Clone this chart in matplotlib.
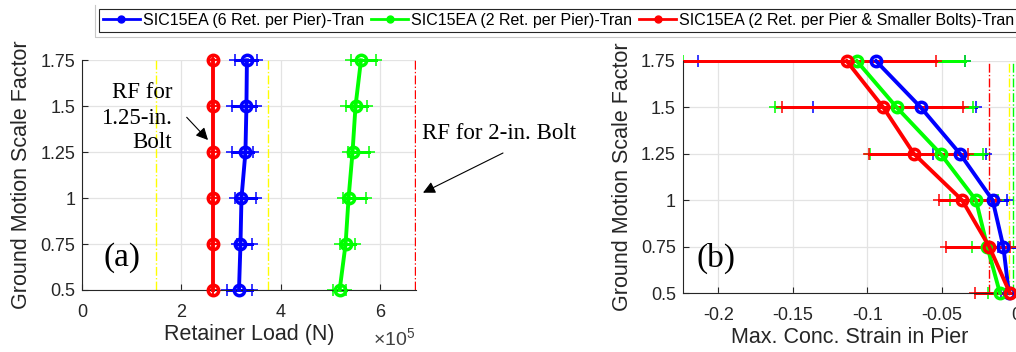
import matplotlib
matplotlib.use('Agg')
import matplotlib.pyplot as plt
from matplotlib.lines import Line2D
from matplotlib.text import Annotation
from matplotlib.ticker import FuncFormatter
from matplotlib.transforms import Bbox, TransformedBbox

plt.rcParams['font.family'] = ['Liberation Sans', 'DejaVu Sans']
plt.rcParams['mathtext.fontset'] = 'custom'
plt.rcParams['mathtext.rm'] = 'Liberation Sans'
plt.rcParams['axes.unicode_minus'] = False

# ground motion scale factors
scale = [0.5, 0.75, 1.0, 1.25, 1.5, 1.75]

# retainer load (N): mean, mean-std, mean+std
load_6ret = [3.16e5, 3.19e5, 3.21e5, 3.29e5, 3.31e5, 3.32e5]
load_6ret_lo = [2.91e5, 3.13e5, 3.08e5, 3.02e5, 3.02e5, 3.07e5]
load_6ret_hi = [3.42e5, 3.42e5, 3.50e5, 3.44e5, 3.51e5, 3.53e5]
load_2ret = [5.19e5, 5.31e5, 5.37e5, 5.45e5, 5.51e5, 5.62e5]
load_2ret_lo = [5.05e5, 5.19e5, 5.25e5, 5.35e5, 5.32e5, 5.42e5]
load_2ret_hi = [5.32e5, 5.49e5, 5.72e5, 5.79e5, 5.75e5, 5.92e5]
load_2ret_sb = [2.64e5, 2.64e5, 2.64e5, 2.64e5, 2.64e5, 2.64e5]
load_2ret_sb_lo = [2.64e5, 2.64e5, 2.64e5, 2.64e5, 2.64e5, 2.64e5]
load_2ret_sb_hi = [2.64e5, 2.64e5, 2.64e5, 2.64e5, 2.64e5, 2.64e5]

# rupture forces / limits drawn as dash-dot lines
rf_load_yellow = [1.48e5, 3.74e5]
rf_load_red = [6.71e5]

# max concrete strain in pier: mean, mean-std, mean+std
strain_6ret = [-0.0048, -0.0085, -0.0157, -0.0376, -0.0640, -0.0941]
strain_6ret_lo = [-0.0100, -0.0120, -0.0163, -0.0560, -0.1362, -0.2135]
strain_6ret_hi = [0.0010, 0.0020, -0.0063, -0.0204, -0.0269, -0.0345]
strain_2ret = [-0.0108, -0.0193, -0.0269, -0.0507, -0.0802, -0.1070]
strain_2ret_lo = [-0.0186, -0.0298, -0.0444, -0.0980, -0.1620, -0.2235]
strain_2ret_hi = [-0.0020, -0.0050, -0.0120, -0.0220, -0.0287, -0.0340]
strain_2ret_sb = [-0.0041, -0.0180, -0.0362, -0.0686, -0.0892, -0.1138]
strain_2ret_sb_lo = [-0.0276, -0.0470, -0.0517, -0.0990, -0.1575, -0.2400]
strain_2ret_sb_hi = [0.0030, -0.0040, -0.0134, -0.0320, -0.0358, -0.0538]

strain_lines = {'r': -0.0180, 'y': -0.0047, 'g': -0.0018}

labels = ['SIC15EA (6 Ret. per Pier)-Tran',
          'SIC15EA (2 Ret. per Pier)-Tran',
          'SIC15EA (2 Ret. per Pier & Smaller Bolts)-Tran']
colors = ['#0000ff', '#00ff00', '#ff0000']

dark = '#262626'
W, H = 1016, 352
fig = plt.figure(figsize=(W / 100, H / 100), dpi=100)


def px(x, y):
    return x / W, 1 - y / H


def draw_series(ax, vals, lo, hi, color):
    # clip only left/right so lines lying on the top/bottom edge stay whole
    clip = TransformedBbox(Bbox([[0, -0.1], [1, 1.1]]), ax.transAxes)
    for y, a, b in zip(scale, lo, hi):
        ln, = ax.plot([a, b], [y, y], color=color, lw=0.75, marker='+', ms=9, mew=1.1,
                      zorder=2, antialiased=False)
        ln.set_clip_box(clip)
    ln, = ax.plot(vals, scale, color=color, lw=2.8, marker='o', ms=7.5, mfc='none',
                  mew=2.5, zorder=3)
    ln.set_clip_box(clip)


def style_axes(ax):
    ax.set_ylim(0.5, 1.75)
    ax.set_yticks(scale)
    ax.set_yticklabels(['0.5', '0.75', '1', '1.25', '1.5', '1.75'])
    ax.grid(True, color='#e3e3e3', lw=0.9)
    ax.set_axisbelow(True)
    for s in ['top', 'right']:
        ax.spines[s].set_visible(False)
    for s in ['left', 'bottom']:
        ax.spines[s].set_color(dark)
        ax.spines[s].set_linewidth(0.8)
    ax.tick_params(direction='in', length=4, width=0.8, colors=dark, labelsize=13)
    ax.tick_params(axis='x', pad=10)
    ax.tick_params(axis='y', pad=5)
    ax.set_ylabel('Ground Motion Scale Factor', fontsize=15.5, color=dark, labelpad=6)


# (a) retainer load
ax1 = fig.add_axes([82.3 / W, 1 - 290 / H, (416 - 82.3) / W, (290 - 60.3) / H])
for v in rf_load_yellow:
    ax1.axvline(v, color='#ffff00', lw=1, ls='-.', zorder=1)
for v in rf_load_red:
    ax1.axvline(v, color='#ff0000', lw=1, ls='-.', zorder=1)
draw_series(ax1, load_6ret, load_6ret_lo, load_6ret_hi, colors[0])
draw_series(ax1, load_2ret, load_2ret_lo, load_2ret_hi, colors[1])
draw_series(ax1, load_2ret_sb, load_2ret_sb_lo, load_2ret_sb_hi, colors[2])
ax1.set_xlim(0, 6.73e5)
ax1.set_xticks([0, 2e5, 4e5, 6e5])
ax1.xaxis.set_major_formatter(FuncFormatter(lambda v, p: '%g' % (v / 1e5)))
style_axes(ax1)
ax1.set_xlabel('Retainer Load (N)', fontsize=15.5, color=dark, labelpad=2)
ax1.text(0.119, 0.139, '(a)', transform=ax1.transAxes, fontsize=24,
         family='Liberation Serif', ha='center', va='center')
fig.text(*px(415, 339), r'$\times10^5$', fontsize=14, color='#404040', ha='right', va='center')

# (b) max concrete strain
ax2 = fig.add_axes([682.7 / W, 1 - 293 / H, (W - 682.7) / W, (293 - 61) / H])
ax2.axvline(strain_lines['r'], color='#ff0000', lw=1, ls='-.', zorder=1)
ax2.axvline(strain_lines['y'], color='#ffff00', lw=1, ls='-.', zorder=1)
ax2.axvline(strain_lines['g'], color='#00ff00', lw=1, ls='-.', zorder=1)
draw_series(ax2, strain_6ret, strain_6ret_lo, strain_6ret_hi, colors[0])
draw_series(ax2, strain_2ret, strain_2ret_lo, strain_2ret_hi, colors[1])
draw_series(ax2, strain_2ret_sb, strain_2ret_sb_lo, strain_2ret_sb_hi, colors[2])
ax2.set_xlim(-0.224, 0)
ax2.set_xticks([-0.2, -0.15, -0.1, -0.05, 0])
ax2.set_xticklabels(['-0.2', '-0.15', '-0.1', '-0.05', '0'])
style_axes(ax2)
ax2.set_xlabel('Max. Conc. Strain in Pier', fontsize=15.5, color=dark, labelpad=2)
ax2.text(0.1, 0.151, '(b)', transform=ax2.transAxes, fontsize=24,
         family='Liberation Serif', ha='center', va='center')

# rupture force notes
fig.text(*px(172.3, 118), 'RF for\n1.25-in.\nBolt', fontsize=16.5, family='Liberation Serif',
         ha='right', va='center', linespacing=1.25)
fig.text(*px(421.7, 133), 'RF for 2-in. Bolt', fontsize=16.5, family='Liberation Serif',
         ha='left', va='center')
arrow = dict(arrowstyle='-|>', color='k', lw=0.8, mutation_scale=18, shrinkA=0, shrinkB=0)
fig.add_artist(Annotation('', xy=px(208, 140), xytext=px(186.7, 117.3),
                          xycoords='figure fraction', arrowprops=arrow))
fig.add_artist(Annotation('', xy=px(423, 192.7), xytext=px(503, 153),
                          xycoords='figure fraction', arrowprops=arrow))

# legend
handles = [Line2D([], [], color=c, lw=2, marker='o', ms=5, mfc=c) for c in colors]
leg = fig.legend(handles, labels, loc='upper left', bbox_to_anchor=px(99, 9), ncol=3,
                 fontsize=11.5, frameon=True, fancybox=False, edgecolor=dark, framealpha=1,
                 borderpad=0.25, borderaxespad=0, handlelength=2.3, handletextpad=0.2,
                 columnspacing=0.45)
leg.get_frame().set_linewidth(0.8)
fig.add_artist(Line2D([95 / W, 95 / W, 1], [1 - 5 / H, 1 - 37 / H, 1 - 37 / H],
                      color='#c8c8c8', lw=0.8))

fig.savefig('out.png', dpi=100)
